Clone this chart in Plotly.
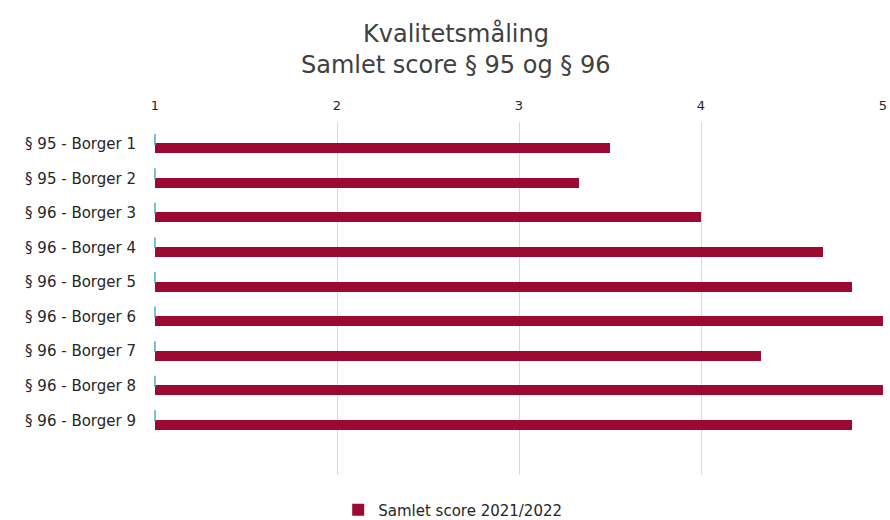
import plotly.graph_objects as go

categories = ["§ 95 - Borger 1", "§ 95 - Borger 2", "§ 96 - Borger 3", "§ 96 - Borger 4",
              "§ 96 - Borger 5", "§ 96 - Borger 6", "§ 96 - Borger 7", "§ 96 - Borger 8",
              "§ 96 - Borger 9"]
scores = [3.5, 3.33, 4.0, 4.67, 4.83, 5.0, 4.33, 5.0, 4.83]
empty_series = [1, 1, 1, 1, 1, 1, 1, 1, 1]
x_ticks = [1, 2, 3, 4, 5]
title_lines = ["Kvalitetsmåling", "Samlet score § 95 og § 96"]

FONT = "DejaVu Sans"
TXT = "#404040"
DARK = "#262626"
RED = "#9B0A30"
TEAL = "#4BACC6"

idx = list(range(len(categories)))
off = 0.13

fig = go.Figure()
fig.add_trace(go.Bar(
    x=scores, y=[i + off for i in idx], orientation="h",
    width=0.29, marker=dict(color=RED, line=dict(width=0)),
    name="Samlet score 2021/2022", showlegend=True,
))
fig.add_trace(go.Scatter(
    x=empty_series, y=[i - off for i in idx], mode="markers",
    marker=dict(symbol="line-ns", size=8, line=dict(color=TEAL, width=1.5)),
    showlegend=False, cliponaxis=False, hoverinfo="skip",
))

PT, PB = 122, 45
ph = 520 - PT - PB
for text, ypx in zip(title_lines, [33, 65]):
    fig.add_annotation(text=text, xref="paper", yref="paper", x=0.413,
                       y=(520 - PB - ypx) / ph,
                       xanchor="center", yanchor="middle", showarrow=False,
                       font=dict(family=FONT, size=24, color=TXT))

fig.update_layout(
    width=890, height=520,
    paper_bgcolor="white", plot_bgcolor="white",
    margin=dict(l=155, r=7, t=PT, b=PB, pad=0, autoexpand=False),
    font=dict(family=FONT, color=TXT, size=12),
    xaxis=dict(side="top", range=[1, 5], tickvals=x_ticks, ticktext=[str(t) for t in x_ticks],
               showgrid=True, gridcolor="#d9d9d9", gridwidth=1, zeroline=False,
               showline=False, ticks="", tickfont=dict(size=13, color=DARK),
               ticklabelstandoff=8, automargin=False),
    yaxis=dict(range=[8 + 1.58, -0.63], tickvals=idx, ticktext=categories,
               showgrid=False, zeroline=False, showline=False, ticks="",
               tickfont=dict(size=15, color=DARK), ticklabelstandoff=18,
               automargin=False),
    legend=dict(orientation="h", xref="container", yref="container",
                x=0.38, xanchor="left", y=10 / 520, yanchor="middle",
                font=dict(size=15, color=DARK), itemwidth=30),
    bargap=0,
)

fig.write_html("out.html", config={"displayModeBar": False})
# remove default page margin so the figure sits at the window origin
with open("out.html", encoding="utf-8") as f:
    html = f.read()
html = html.replace("<head>", "<head><style>html,body{margin:0;padding:0;}</style>", 1)
with open("out.html", "w", encoding="utf-8") as f:
    f.write(html)
